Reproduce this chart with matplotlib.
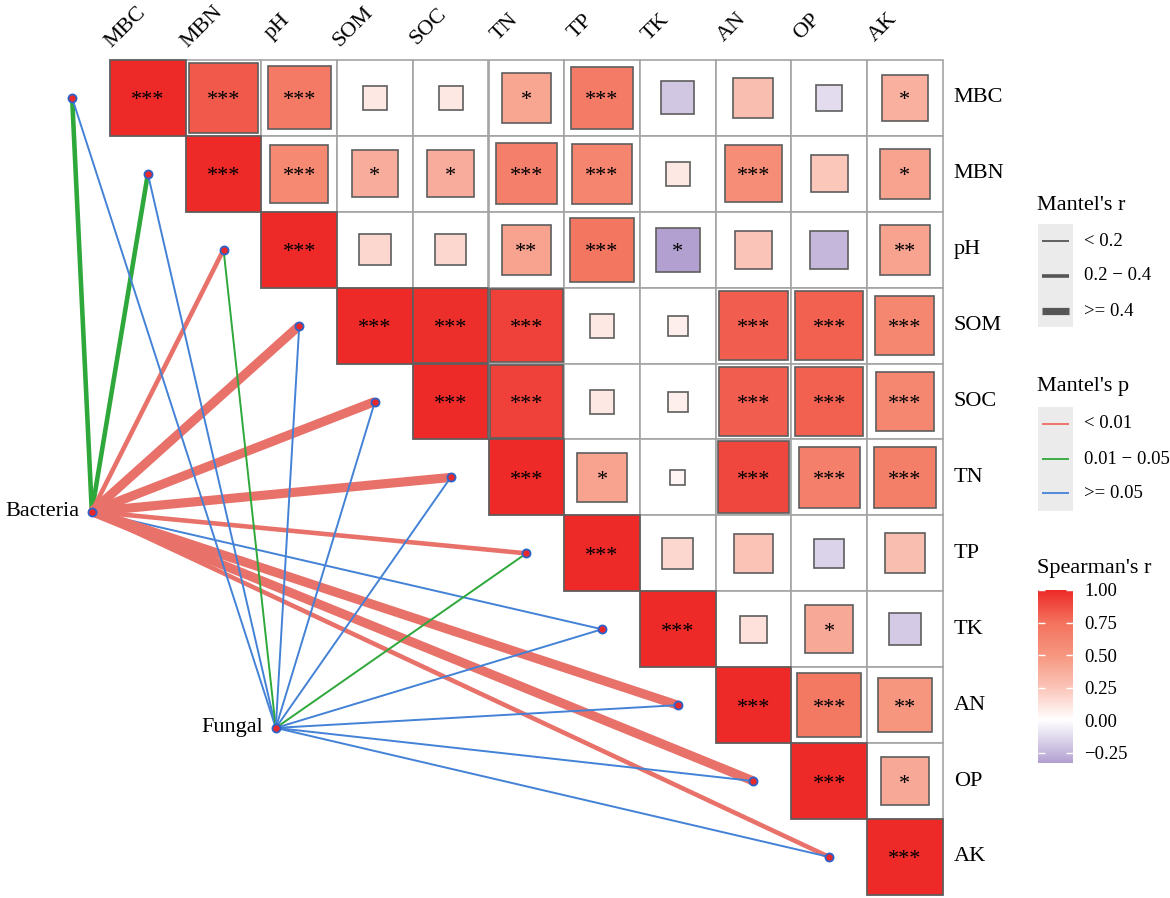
import numpy as np
import matplotlib
matplotlib.use('Agg')
import matplotlib.pyplot as plt
from matplotlib.colors import LinearSegmentedColormap, Normalize
from matplotlib.patches import Rectangle
from matplotlib.cm import ScalarMappable

plt.rcParams['font.family'] = ['Liberation Serif', 'DejaVu Serif']

# ---------------- data ----------------
variables = ['MBC', 'MBN', 'pH', 'SOM', 'SOC', 'TN', 'TP', 'TK', 'AN', 'OP', 'AK']

# Spearman's r, upper triangle rows starting at the diagonal
spearman_rows = [
    [1.00, 0.83, 0.69, 0.10, 0.10, 0.42, 0.68, -0.19, 0.28, -0.12, 0.36],
    [1.00, 0.59, 0.38, 0.38, 0.65, 0.62, 0.10, 0.56, 0.24, 0.43],
    [1.00, 0.17, 0.17, 0.43, 0.72, -0.34, 0.25, -0.25, 0.43],
    [1.00, 0.98, 0.92, 0.10, 0.07, 0.82, 0.81, 0.61],
    [1.00, 0.92, 0.10, 0.07, 0.82, 0.81, 0.60],
    [1.00, 0.43, 0.04, 0.90, 0.65, 0.66],
    [1.00, 0.17, 0.26, -0.15, 0.28],
    [1.00, 0.13, 0.40, -0.18],
    [1.00, 0.70, 0.50],
    [1.00, 0.40],
    [1.00],
]
spearman_sig = [
    ['***', '***', '***', '', '', '*', '***', '', '', '', '*'],
    ['***', '***', '*', '*', '***', '***', '', '***', '', '*'],
    ['***', '', '', '**', '***', '*', '', '', '**'],
    ['***', '***', '***', '', '', '***', '***', '***'],
    ['***', '***', '', '', '***', '***', '***'],
    ['***', '*', '', '***', '***', '***'],
    ['***', '', '', '', ''],
    ['***', '', '*', ''],
    ['***', '***', '**'],
    ['***', '*'],
    ['***'],
]

# Mantel test results (per environmental variable)
spec_names = ['Bacteria', 'Fungal']
bacteria_r = [0.26, 0.32, 0.28, 0.52, 0.50, 0.49, 0.30, 0.12, 0.47, 0.48, 0.27]
bacteria_p = [0.021, 0.015, 0.003, 0.001, 0.001, 0.001, 0.002, 0.12, 0.001, 0.001, 0.004]
fungal_r = [0.05, 0.08, 0.15, 0.06, 0.07, 0.09, 0.13, 0.04, 0.10, 0.06, 0.05]
fungal_p = [0.45, 0.30, 0.03, 0.52, 0.48, 0.25, 0.04, 0.61, 0.22, 0.37, 0.41]

r_labels = ['< 0.2', '0.2 \u2212 0.4', '>= 0.4']
p_labels = ['< 0.01', '0.01 \u2212 0.05', '>= 0.05']
cbar_ticks = [-0.25, 0.00, 0.25, 0.50, 0.75, 1.00]

# ---------------- styles ----------------
W, H = 1170, 898
fig = plt.figure(figsize=(W / 100, H / 100), dpi=100)

GX0, GY0, CW, CH = 110.0, 60.0, 75.7, 75.9   # grid origin / cell size in pixels
ax = fig.add_axes([0, 0, 1, 1])
ax.set_xlim((0 - GX0) / CW - 0.5, (W - GX0) / CW - 0.5)
ax.set_ylim((H - GY0) / CH - 0.5, (0 - GY0) / CH - 0.5)
ax.axis('off')

cmin, cmax = -0.33, 1.0
stops = [(-0.33, '#B2A0D0'), (0.0, '#FFFFFF'), (0.25, '#FBC4B8'),
         (0.5, '#F6967F'), (0.75, '#F3725D'), (1.0, '#ED2A28')]
cmap = LinearSegmentedColormap.from_list(
    'spear', [((v - cmin) / (cmax - cmin), c) for v, c in stops])
norm = Normalize(cmin, cmax)

red_link, green_link, blue_link = '#E8716A', '#2EA83A', '#4382D6'
red_leg, green_leg, blue_leg = '#EE6A62', '#2EA83A', '#4382D6'


def link_width(r):
    return 1.4 if r < 0.2 else (3.3 if r < 0.4 else 6.6)


def link_color(p):
    return red_link if p < 0.01 else (green_link if p < 0.05 else blue_link)


# ---------------- heatmap ----------------
n = len(variables)
for i, row in enumerate(spearman_rows):
    for k, v in enumerate(row):
        j = i + k
        ax.add_patch(Rectangle((j - 0.5, i - 0.5), 1, 1, facecolor='white',
                               edgecolor='#A4A4A4', lw=1.2, zorder=1))
for i, row in enumerate(spearman_rows):
    for k, v in enumerate(row):
        j = i + k
        s = np.sqrt(abs(v))
        ax.add_patch(Rectangle((j - s / 2, i - s / 2), s, s,
                               facecolor=cmap(norm(v)), edgecolor='#5E5E5E',
                               lw=1.2, zorder=2))
        st = spearman_sig[i][k]
        if st:
            ax.text(j, i + 0.04, st, ha='center', va='center', fontsize=16,
                    color='black', zorder=3)

# labels
for j, name in enumerate(variables):
    ax.text(j - 0.29, -0.935, name, rotation=45, ha='center', va='center',
            rotation_mode='anchor', fontsize=16)
for i, name in enumerate(variables):
    ax.text(n - 0.5 + 11 / CW, i, name, ha='left', va='center', fontsize=16)

# ---------------- Mantel links ----------------
spec_pos = {'Bacteria': (-0.74, 5.45), 'Fungal': (1.69, 8.30)}
mantel = {'Bacteria': (bacteria_r, bacteria_p), 'Fungal': (fungal_r, fungal_p)}
for sp in spec_names:
    sx, sy = spec_pos[sp]
    rr, pp = mantel[sp]
    for i in range(n):
        nx, ny = i - 1, i
        ax.plot([sx, nx], [sy, ny], color=link_color(pp[i]), lw=link_width(rr[i]),
                solid_capstyle='butt', zorder=1.5)

node_x = [i - 1 for i in range(n)] + [spec_pos[s][0] for s in spec_names]
node_y = [i for i in range(n)] + [spec_pos[s][1] for s in spec_names]
ax.scatter(node_x, node_y, s=34, facecolor='#E8282A', edgecolor='#2F62C8',
           linewidths=1.3, zorder=4)
ax.text(spec_pos['Bacteria'][0] - 12 / CW, spec_pos['Bacteria'][1], 'Bacteria',
        ha='right', va='center', fontsize=16)
ax.text(spec_pos['Fungal'][0] - 13 / CW, spec_pos['Fungal'][1], 'Fungal',
        ha='right', va='center', fontsize=16)

# ---------------- legends (pixel overlay) ----------------
lg = fig.add_axes([0, 0, 1, 1], facecolor='none')
lg.set_xlim(0, W)
lg.set_ylim(H, 0)
lg.axis('off')

# Mantel's r
lg.text(1037, 206, "Mantel's r", ha='left', va='center', fontsize=16)
lg.add_patch(Rectangle((1038, 224), 35, 103, facecolor='#EBEBEB', edgecolor='none'))
for lab, yy, lw in zip(r_labels, [241, 276, 311], [1.3, 2.6, 5.2]):
    lg.plot([1042, 1069], [yy, yy], color='#555555', lw=lw, solid_capstyle='butt')
    lg.text(1084, yy, lab, ha='left', va='center', fontsize=13.5)

# Mantel's p
lg.text(1037, 386, "Mantel's p", ha='left', va='center', fontsize=16)
lg.add_patch(Rectangle((1038, 407), 35, 104, facecolor='#EBEBEB', edgecolor='none'))
for lab, yy, c in zip(p_labels, [424, 459, 493], [red_leg, green_leg, blue_leg]):
    lg.plot([1042, 1069], [yy, yy], color=c, lw=1.3, solid_capstyle='butt')
    lg.text(1084, yy, lab, ha='left', va='center', fontsize=13.5)

# Spearman's r colorbar
lg.text(1037, 568, "Spearman's r", ha='left', va='center', fontsize=16)
cax = fig.add_axes([1038 / W, 1 - 763 / H, 35 / W, (763 - 590) / H])
cb = fig.colorbar(ScalarMappable(norm=norm, cmap=cmap), cax=cax, ticks=cbar_ticks)
cb.outline.set_visible(False)
cb.ax.yaxis.set_ticks_position('both')
cb.ax.tick_params(which='major', direction='in', color='white', length=5,
                  width=1, labelsize=13.5, pad=8, labelleft=False, labelright=True)
cb.ax.set_yticklabels(['\u22120.25', '0.00', '0.25', '0.50', '0.75', '1.00'])
cb.ax.minorticks_off()

fig.savefig('out.png', dpi=100)
